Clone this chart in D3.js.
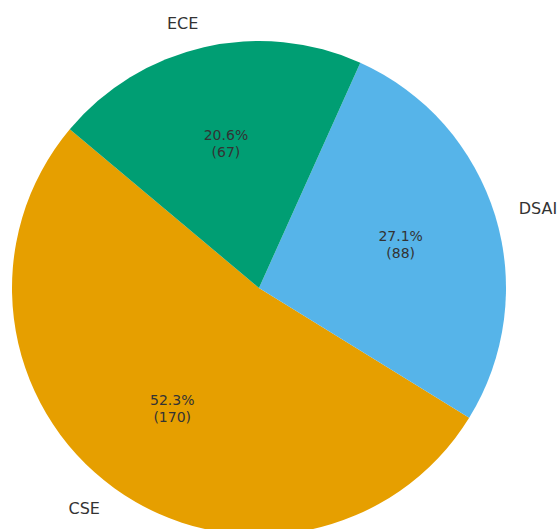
<!DOCTYPE html>
<html>
<head>
<meta charset="utf-8">
<script src="https://cdn.jsdelivr.net/npm/d3@7"></script>
<style>
  body { margin: 0; background: #fff; }
  text { font-family: "DejaVu Sans", sans-serif; fill: #333; }
</style>
</head>
<body>
<div id="chart"></div>
<script>
const departments = ['CSE', 'DSAI', 'ECE'];
const counts = [170, 88, 67];
const colors = ['#E69F00', '#56B4E9', '#009E73'];

const width = 558, height = 529;
const cx = 259, cy = 288, radius = 247;

let svg = d3.select('#chart').append('svg')
    .attr('width', width)
    .attr('height', height);

let g = svg.append('g').attr('transform', `translate(${cx},${cy})`);

// matplotlib startangle=140, counterclockwise
const start = (90 - 140) * Math.PI / 180;
let pie = d3.pie().sort(null).value(d => d)
    .startAngle(start)
    .endAngle(start - 2 * Math.PI);

let arcs = pie(counts);
let total = d3.sum(counts);

let arc = d3.arc().innerRadius(0).outerRadius(radius);

g.selectAll('path')
    .data(arcs)
    .enter().append('path')
    .attr('d', arc)
    .attr('fill', (d, i) => colors[i]);

const pos = (d, r) => {
    let a = (d.startAngle + d.endAngle) / 2;
    return [Math.sin(a) * r, -Math.cos(a) * r];
};

// category labels
arcs.forEach((d, i) => {
    let [x, y] = pos(d, radius * 1.1);
    g.append('text')
        .attr('x', x)
        .attr('y', y)
        .attr('dy', '0.35em')
        .attr('text-anchor', x < 0 ? 'end' : 'start')
        .style('font-size', '16px')
        .text(departments[i]);

    let [px, py] = pos(d, radius * 0.6);
    let t = g.append('text')
        .attr('text-anchor', 'middle')
        .style('font-size', '14px');
    t.append('tspan')
        .attr('x', px).attr('y', py - 8.5).attr('dy', '0.35em')
        .text((counts[i] / total * 100).toFixed(1) + '%');
    t.append('tspan')
        .attr('x', px).attr('y', py + 8.5).attr('dy', '0.35em')
        .text(`(${counts[i]})`);
});
</script>
</body>
</html>
